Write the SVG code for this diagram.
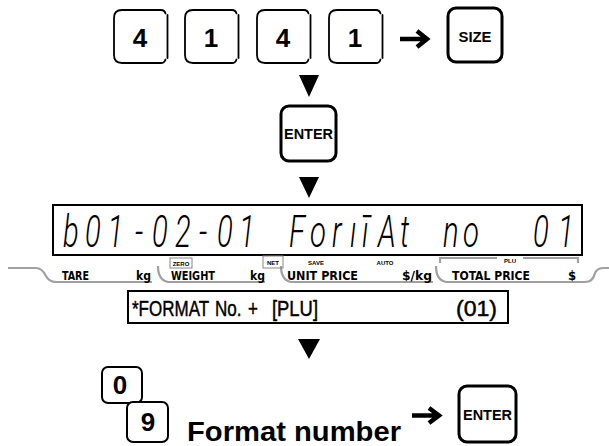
<svg xmlns="http://www.w3.org/2000/svg" xmlns:xlink="http://www.w3.org/1999/xlink" width="609" height="446" viewBox="0 0 609 446">
<style>
.k{fill:#fff;stroke:#000;stroke-width:1.8;stroke-linecap:round}
.kb{fill:#fff;stroke:#000;stroke-width:3}
.ks{fill:#fff;stroke:#000;stroke-width:2}
.dg{font-family:"Liberation Sans",Arial,sans-serif;font-weight:bold;font-size:26px;text-anchor:middle;fill:#000}
.kt{font-family:"Liberation Sans",Arial,sans-serif;font-weight:bold;font-size:14px;text-anchor:middle;fill:#000}
.tri{fill:#000}
.arr{fill:none;stroke:#000;stroke-width:4.5;stroke-linejoin:miter}
.lbl{font-family:"Liberation Sans Narrow","DejaVu Sans Condensed","Liberation Sans",sans-serif;font-weight:bold;font-size:13px;fill:#000}
.tiny{font-family:"Liberation Sans",Arial,sans-serif;font-weight:bold;font-size:6px;fill:#000}
.brk{fill:none;stroke:#a0a0a0;stroke-width:2.2}
.lcd{font-family:Roboto,"DejaVu Sans",sans-serif;font-size:45px;font-weight:300;font-style:italic;fill:#000}
.info{font-family:"Liberation Sans",Arial,sans-serif;font-size:17px;fill:#000;stroke:#000;stroke-width:0.35}
.big{font-family:"Liberation Sans",Arial,sans-serif;font-weight:bold;font-size:28px;fill:#000}
</style>
<defs>
<path id="keyshape" d="M8,0 H47 Q50.5,0 51.5,3.5 M53.5,5 V48 M51.5,49.5 Q50.5,53 47,53 H8 Q0,53 0,45 V8 Q0,0 8,0"/>
</defs>
<g id="key-4a"><use xlink:href="#keyshape" class="k" transform="translate(114,10)"/><text class="dg" x="140" y="47">4</text></g>
<g id="key-1a"><use xlink:href="#keyshape" class="k" transform="translate(185,10)"/><text class="dg" x="211" y="47">1</text></g>
<g id="key-4b"><use xlink:href="#keyshape" class="k" transform="translate(257,10)"/><text class="dg" x="283" y="47">4</text></g>
<g id="key-1b"><use xlink:href="#keyshape" class="k" transform="translate(329,10)"/><text class="dg" x="355" y="47">1</text></g>
<g id="key-size"><rect class="kb" x="448" y="8" width="54" height="54" rx="8"/><text class="kt" x="475" y="42" textLength="33" lengthAdjust="spacingAndGlyphs">SIZE</text></g>
<g id="key-enter1"><rect class="kb" x="281" y="106" width="55" height="55" rx="8"/><text class="kt" x="308.5" y="139" textLength="49" lengthAdjust="spacingAndGlyphs">ENTER</text></g>
<g id="connectors">
<path class="arr" d="M400,39 H426 M417,31 L427,39 L417,47"/>
<polygon class="tri" points="299,75 319,75 309,97"/>
<polygon class="tri" points="299,177 319,177 309,198"/>
<polygon class="tri" points="298,339 320,339 309,359"/>
<path class="arr" d="M412,415.5 H437 M429,408 L439,415.5 L429,423"/>
</g>
<g id="lcd-panel">
<path class="brk" d="M440,263 V258 H497 M523,258 H578 V263"/>
<text class="tiny" x="510" y="263" text-anchor="middle" font-size="8.5">PLU</text>
<rect x="53" y="205" width="529" height="50" fill="#fff" stroke="#000" stroke-width="2"/>
<text class="lcd" transform="scale(0.65,1)" y="247" x="96.9 130.8 165.4 207.7 233.8 269.2 306.2 333.8 367.7 400 444.6 476.9 510.8 538.5 556.9 581.5 615.4 650 681.5 712.3 760 820 858.5">b01-02-01 ForıīAt no 01</text>
<path class="brk" d="M8,268 H36 Q42,268 46,276 Q49,282 56,282 H152"/>
<path class="brk" d="M158,266 Q158,280 168,282 H265"/>
<path class="brk" d="M281,266 Q281,280 291,282 H433"/>
<path class="brk" d="M436,266 Q436,280 446,282 H580"/>
<path class="brk" d="M580,282 H585 Q593,282 595,273 Q597,268 604,268 H609"/>
<text class="lbl" x="62" y="280" textLength="27" lengthAdjust="spacingAndGlyphs">TARE</text>
<text class="lbl" x="136" y="280" textLength="15" lengthAdjust="spacingAndGlyphs">kg</text>
<rect x="170" y="258" width="22" height="10" fill="none" stroke="#888" stroke-width="1"/>
<text class="tiny" x="181" y="265.5" text-anchor="middle">ZERO</text>
<text class="lbl" x="171" y="280" textLength="44" lengthAdjust="spacingAndGlyphs">WEIGHT</text>
<text class="lbl" x="250" y="280" textLength="15" lengthAdjust="spacingAndGlyphs">kg</text>
<rect x="263" y="256" width="20" height="12" fill="none" stroke="#888" stroke-width="1"/>
<text class="tiny" x="273" y="265" text-anchor="middle" font-size="7">NET</text>
<text class="tiny" x="316" y="265" text-anchor="middle">SAVE</text>
<text class="lbl" x="287" y="280" textLength="71" lengthAdjust="spacingAndGlyphs">UNIT PRICE</text>
<text class="tiny" x="385" y="265" text-anchor="middle">AUTO</text>
<text class="lbl" x="402" y="280" textLength="30" lengthAdjust="spacingAndGlyphs">$/kg</text>
<text class="lbl" x="452" y="280" textLength="78" lengthAdjust="spacingAndGlyphs">TOTAL PRICE</text>
<text class="lbl" x="568" y="280">$</text>
</g>
<g id="info-box">
<rect x="128" y="291" width="380" height="32" fill="#fff" stroke="#000" stroke-width="2"/>
<text class="info" transform="translate(0,316) scale(1,1.25)" y="0"><tspan x="132">*FORMAT</tspan><tspan x="215">No.</tspan><tspan x="248">+</tspan><tspan x="272" textLength="46" lengthAdjust="spacingAndGlyphs">[PLU]</tspan><tspan x="456" textLength="41" lengthAdjust="spacingAndGlyphs">(01)</tspan></text>
</g>
<g id="key-0"><rect class="ks" x="102" y="367" width="40" height="36" rx="6"/><text class="dg" x="120" y="394" font-size="24">0</text></g>
<g id="key-9"><rect class="ks" x="127" y="402" width="41" height="40" rx="6"/><text class="dg" x="148" y="431" font-size="24">9</text></g>
<g id="label-format"><text class="big" x="187" y="441" textLength="214" lengthAdjust="spacingAndGlyphs">Format number</text></g>
<g id="key-enter2"><rect class="kb" x="459" y="386" width="57" height="56" rx="8"/><text class="kt" x="487.5" y="419.5" textLength="49" lengthAdjust="spacingAndGlyphs">ENTER</text></g>
</svg>
